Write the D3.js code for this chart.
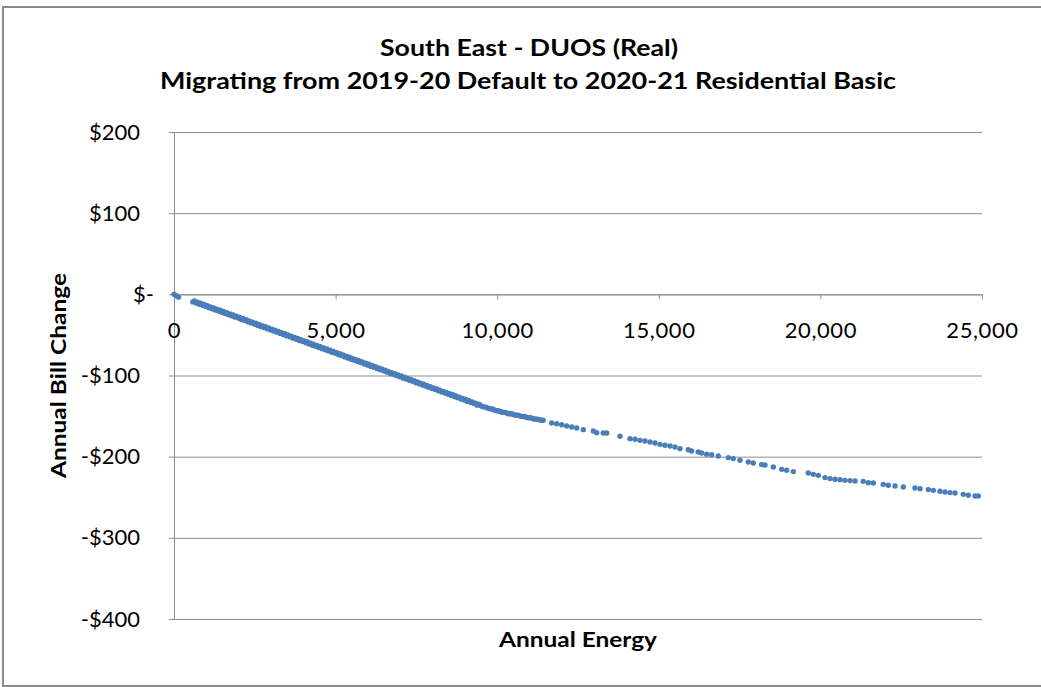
<!DOCTYPE html>
<html>
<head>
<meta charset="utf-8">
<script src="https://cdn.jsdelivr.net/npm/d3@7"></script>
<style>
  html, body { margin: 0; padding: 0; background: #ffffff; }
  svg { display: block; }
  text { font-family: Lato, "Open Sans", sans-serif; fill: #000; }
</style>
</head>
<body>
<svg id="chart" width="1041" height="687"></svg>
<script>
// Chart text
const titleLines = ["South East - DUOS (Real)", "Migrating from 2019-20 Default to 2020-21 Residential Basic"];
const xTitle = "Annual Energy";
const yTitle = "Annual Bill Change";

// Axis ticks
const xTicks = [0, 5000, 10000, 15000, 20000, 25000];
const yTicks = [200, 100, 0, -100, -200, -300, -400];

// Annual energy (kWh) per customer
const energy = [
  0, 60, 140,
  580, 680, 780, 880, 980, 1080, 1180, 1280, 1380, 1480,
  1580, 1680, 1780, 1880, 1980, 2080, 2180, 2280, 2380, 2480,
  2580, 2680, 2780, 2880, 2980, 3080, 3180, 3280, 3380, 3480,
  3580, 3680, 3780, 3880, 3980, 4080, 4180, 4280, 4380, 4480,
  4580, 4680, 4780, 4880, 4980, 5080, 5180, 5280, 5380, 5480,
  5580, 5680, 5780, 5880, 5980, 6080, 6180, 6280, 6380, 6480,
  6580, 6680, 6780, 6880, 6980, 7080, 7180, 7280, 7380, 7480,
  7580, 7680, 7780, 7880, 7980, 8080, 8180, 8280, 8380, 8480,
  8580, 8680, 8780, 8880, 8980, 9080, 9180, 9280, 9380,
  630, 730, 830, 930, 1030, 1130, 1230, 1330, 1430, 1530,
  1630, 1730, 1830, 1930, 2030, 2130, 2230, 2330, 2430, 2530,
  2630, 2730, 2830, 2930, 3030, 3130, 3230, 3330, 3430, 3530,
  3630, 3730, 3830, 3930, 4030, 4130, 4230, 4330, 4430, 4530,
  4630, 4730, 4830, 4930, 5030, 5130, 5230, 5330, 5430, 5530,
  5630, 5730, 5830, 5930, 6030, 6130, 6230, 6330, 6430, 6530,
  6630, 6730, 6830, 6930, 7030, 7130, 7230, 7330, 7430, 7530,
  7630, 7730, 7830, 7930, 8030, 8130, 8230, 8330, 8430, 8530,
  8630, 8730, 8830, 8930, 9030, 9130, 9230, 9330, 9430,
  9500, 9600, 9700, 9800, 9900, 10000, 10100, 10200, 10300, 10400,
  10500, 10600, 10700, 10800, 10900, 11000, 11100, 11200, 11300, 11420,
  9450, 9550, 9650, 9750, 9850, 9950, 10050, 10150, 10250, 10350,
  10450, 10550, 10650, 10750, 10850, 10950, 11050, 11150, 11250, 11360,
  11685, 11840, 11995, 12150, 12305, 12460, 12664,
  12974, 13078, 13282, 13388, 13800,
  14109, 14264, 14418, 14573, 14728, 14882, 15037, 15192, 15347, 15501, 15656,
  15913, 16016, 16222, 16325, 16480, 16636, 16841,
  17150, 17305, 17512, 17770, 17924, 18183, 18286, 18543,
  18803, 18957, 19162, 19626, 19781, 19936,
  20142, 20297, 20452, 20607, 20761, 20916, 21071,
  21327, 21482, 21637, 21946, 22101, 22308, 22565,
  22927, 23082, 23339, 23494, 23700, 23855, 24010, 24165,
  24421, 24576, 24783, 24885
];

// Annual bill change ($) per customer
const billChange = [
  0, -1.5, -3.5,
  -9.3, -10.8, -12.2, -13.6, -15.0, -16.5, -17.8, -19.3, -20.6, -22.2,
  -23.5, -25.1, -26.4, -28.0, -29.3, -30.9, -32.1, -33.8, -35.0, -36.7,
  -38.0, -39.6, -40.8, -42.5, -43.8, -45.3, -46.6, -48.3, -49.5, -51.1,
  -52.4, -54.0, -55.3, -56.9, -58.2, -59.8, -61.1, -62.7, -64.0, -65.6,
  -66.9, -68.4, -69.7, -71.3, -72.6, -74.1, -75.5, -77.1, -78.4, -80.0,
  -81.2, -82.8, -84.1, -85.7, -87.0, -88.6, -89.9, -91.5, -92.8, -94.3,
  -95.7, -97.2, -98.6, -100.1, -101.5, -103.0, -104.4, -105.9, -107.2, -108.8,
  -110.1, -111.7, -113.0, -114.6, -115.9, -117.4, -118.8, -120.3, -121.7, -123.2,
  -124.5, -126.1, -127.4, -129.0, -130.3, -131.9, -133.2, -134.6, -136.5,
  -8.2, -9.6, -11.0, -12.5, -13.9, -15.4, -16.8, -18.3, -19.7, -21.2,
  -22.6, -24.1, -25.5, -27.0, -28.4, -29.8, -31.3, -32.7, -34.2, -35.6,
  -37.1, -38.5, -40.0, -41.4, -42.9, -44.3, -45.8, -47.2, -48.6, -50.1,
  -51.5, -53.0, -54.4, -55.9, -57.3, -58.8, -60.2, -61.7, -63.1, -64.5,
  -66.0, -67.4, -68.9, -70.3, -71.8, -73.2, -74.7, -76.1, -77.6, -79.0,
  -80.4, -81.9, -83.3, -84.8, -86.2, -87.7, -89.1, -90.6, -92.0, -93.5,
  -94.9, -96.4, -97.8, -99.2, -100.7, -102.1, -103.6, -105.0, -106.5, -107.9,
  -109.4, -110.8, -112.3, -113.7, -115.2, -116.6, -118.0, -119.5, -120.9, -122.4,
  -123.8, -125.3, -126.7, -128.2, -129.6, -131.1, -132.5, -134.0, -135.4,
  -137.3, -138.6, -139.9, -141.1, -142.3, -143.4, -144.4, -145.4, -146.3, -147.2,
  -148.0, -148.9, -149.7, -150.5, -151.3, -152.1, -152.9, -153.7, -154.4, -155.2,
  -136.0, -138.4, -139.0, -140.8, -141.3, -143.2, -143.6, -145.3, -145.5, -147.2,
  -147.3, -148.8, -149.0, -150.4, -150.6, -152.0, -152.2, -153.6, -153.8, -155.1,
  -158.5, -159.3, -160.6, -162.2, -163.5, -164.7, -166.7,
  -168.4, -170.4, -170.9, -170.9, -174.9,
  -177.8, -178.6, -179.9, -180.7, -182.0, -183.2, -184.8, -186.0, -186.9, -188.1, -190.1,
  -191.4, -193.1, -194.3, -195.5, -197.1, -197.5, -199.2,
  -201.2, -202.4, -204.5, -206.6, -207.8, -209.8, -210.3, -212.8,
  -215.6, -216.8, -218.4, -220.2, -221.8, -223.0,
  -225.8, -227.0, -227.9, -228.3, -229.2, -229.5, -230.0,
  -230.4, -232.0, -232.5, -234.1, -235.3, -236.2, -237.4,
  -238.6, -239.4, -240.6, -241.5, -242.7, -243.6, -244.3, -244.8,
  -246.4, -247.6, -248.5, -248.5
];

const svg = d3.select("#chart");
const W = 1041;
const plot = { left: 174, right: 982, top: 132, bottom: 619 };

const x = d3.scaleLinear().domain([0, 25000]).range([plot.left, plot.right]);
const y = d3.scaleLinear().domain([-400, 200]).range([plot.bottom, plot.top]);

const gridColor = "#8c8c8c";
const dotColor = "#4a7ebb";

// Chart frame
svg.append("rect")
  .attr("x", 3).attr("y", 7)
  .attr("width", W + 20).attr("height", 679)
  .attr("fill", "#ffffff")
  .attr("stroke", "#8a8a8a").attr("stroke-width", 2);

// Titles
svg.append("text")
  .attr("x", 529).attr("y", 56)
  .attr("text-anchor", "middle")
  .attr("font-size", 23).attr("font-weight", "bold")
  .attr("textLength", 298).attr("lengthAdjust", "spacingAndGlyphs")
  .text(titleLines[0]);
svg.append("text")
  .attr("x", 528).attr("y", 89)
  .attr("text-anchor", "middle")
  .attr("font-size", 23).attr("font-weight", "bold")
  .attr("textLength", 736).attr("lengthAdjust", "spacingAndGlyphs")
  .text(titleLines[1]);

// Horizontal gridlines
svg.append("g")
  .attr("transform", `translate(${plot.left},0)`)
  .call(d3.axisLeft(y).tickValues(yTicks).tickSize(-(plot.right - plot.left)).tickFormat(""))
  .call(g => g.select(".domain").remove())
  .call(g => g.selectAll(".tick line").attr("stroke", gridColor).attr("stroke-width", 1));

// Y axis with accounting-style dollar labels
const fmtDollar = v => v === 0 ? "$-" : (v < 0 ? "-$" : "$") + Math.abs(v);
const yAxis = svg.append("g")
  .attr("transform", `translate(${plot.left},0)`)
  .call(d3.axisLeft(y).tickValues(yTicks).tickSize(5).tickSizeOuter(0).tickPadding(29).tickFormat(fmtDollar));
yAxis.select(".domain").attr("stroke", gridColor);
yAxis.selectAll(".tick line").attr("stroke", gridColor);
yAxis.selectAll(".tick text")
  .attr("font-family", "Lato, sans-serif")
  .attr("font-size", 22)
  .attr("fill", "#000")
  .attr("dx", d => d === 0 ? 14 : 0);

// X axis crossing at zero
const xAxis = svg.append("g")
  .attr("transform", `translate(0,${y(0)})`)
  .call(d3.axisBottom(x).tickValues(xTicks).tickSize(5).tickSizeOuter(0).tickPadding(23)
    .tickFormat(d3.format(",")));
xAxis.select(".domain").attr("stroke", gridColor);
xAxis.selectAll(".tick line").attr("stroke", gridColor);
xAxis.selectAll(".tick text")
  .attr("font-family", "Lato, sans-serif")
  .attr("font-size", 22)
  .attr("letter-spacing", 0.6)
  .attr("fill", "#000");

// Axis titles
svg.append("text")
  .attr("x", 578).attr("y", 647)
  .attr("text-anchor", "middle")
  .attr("font-size", 21).attr("font-weight", "bold")
  .attr("textLength", 158).attr("lengthAdjust", "spacingAndGlyphs")
  .text(xTitle);
svg.append("text")
  .attr("transform", `translate(66,${(plot.top + plot.bottom) / 2}) rotate(-90)`)
  .attr("text-anchor", "middle")
  .attr("font-size", 21).attr("font-weight", "bold")
  .attr("textLength", 205).attr("lengthAdjust", "spacingAndGlyphs")
  .text(yTitle);

// Scatter points
const points = energy.map((e, i) => ({ e, v: billChange[i] }));
svg.append("g")
  .selectAll("circle")
  .data(points)
  .join("circle")
  .attr("cx", d => x(d.e))
  .attr("cy", d => y(d.v))
  .attr("r", 2.7)
  .attr("fill", dotColor);
</script>
</body>
</html>
